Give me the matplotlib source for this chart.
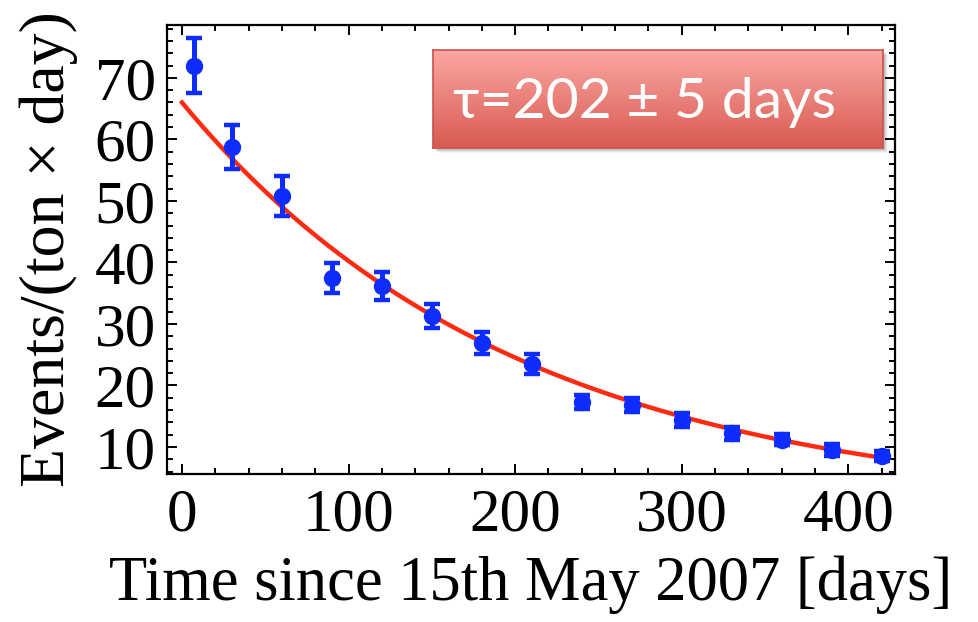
import numpy as np
import matplotlib
matplotlib.use("Agg")
import matplotlib.pyplot as plt
from matplotlib.patches import Rectangle
from matplotlib.colors import LinearSegmentedColormap
from matplotlib.ticker import MultipleLocator

# Measured event rate versus time
days = [7, 30, 60, 90, 120, 150, 180, 210, 240, 270, 300, 330, 360, 390, 420]
rate = [72.0, 58.8, 50.8, 37.5, 36.2, 31.3, 26.9, 23.5, 17.3, 16.8, 14.4, 12.2, 11.2, 9.5, 8.5]
rate_err = [4.5, 3.6, 3.2, 2.4, 2.3, 2.0, 1.8, 1.6, 1.2, 1.2, 1.1, 1.0, 0.9, 0.9, 0.8]

# Exponential fit parameters
fit_amplitude = 66.0
fit_tau = 202.0
fit_tau_err = 5.0

x_ticks = [0, 100, 200, 300, 400]
y_ticks = [10, 20, 30, 40, 50, 60, 70]

serif = "Liberation Serif"
W, H = 979, 622
fig = plt.figure(figsize=(W / 100, H / 100), dpi=100)
ax = fig.add_axes([167 / W, 1 - 474 / H, (895 - 167) / W, (474 - 25) / H])

t = np.linspace(0, 420, 400)
ax.plot(t, fit_amplitude * np.exp(-t / fit_tau), color="#ff2a12", lw=3.2, zorder=2)

ax.errorbar(days, rate, yerr=rate_err, fmt="o", color="#0f2cff", ms=11.5,
            elinewidth=3.6, capsize=6, capthick=3.2, zorder=3)

ax.set_xlim(-9, 428)
ax.set_ylim(5.6, 78.6)
ax.set_xticks(x_ticks)
ax.set_yticks(y_ticks)
ax.xaxis.set_minor_locator(MultipleLocator(20))
ax.yaxis.set_minor_locator(MultipleLocator(2))
ax.tick_params(which="both", direction="in", top=True, right=True, width=1.4, color="black")
ax.tick_params(which="major", length=7.5)
ax.tick_params(which="minor", length=4)
ax.tick_params(axis="y", which="major", pad=8)
ax.tick_params(axis="x", which="major", pad=10)
for lab in ax.get_xticklabels() + ax.get_yticklabels():
    lab.set_fontfamily(serif)
    lab.set_fontsize(44)
for s in ax.spines.values():
    s.set_linewidth(1.6)

ax.set_xlabel("Time since 15th May 2007 [days]", fontfamily=serif, fontsize=45, labelpad=9)
ax.set_ylabel("Events/(ton \u00d7 day)", fontfamily=serif, fontsize=46, labelpad=12)

# Annotation box with a soft shadow and a vertical red gradient
bx0, bx1, by0, by1 = 433, 883, 50, 148
for i, a in enumerate([0.10, 0.08, 0.06, 0.04]):
    off = 2 + i
    fig.patches.append(Rectangle(((bx0 + off) / W, 1 - (by1 + off) / H),
                                 (bx1 - bx0) / W, (by1 - by0) / H,
                                 transform=fig.transFigure, facecolor="black",
                                 edgecolor="none", alpha=a, zorder=4))
box_ax = fig.add_axes([bx0 / W, 1 - by1 / H, (bx1 - bx0) / W, (by1 - by0) / H], zorder=5)
grad_cmap = LinearSegmentedColormap.from_list("boxred", ["#d85a50", "#fba8a4"])
box_ax.imshow(np.linspace(0, 1, 256).reshape(-1, 1), cmap=grad_cmap, aspect="auto",
              extent=[0, 1, 0, 1], origin="lower")
box_ax.set_xlim(0, 1)
box_ax.set_ylim(0, 1)
box_ax.set_xticks([])
box_ax.set_yticks([])
for s in box_ax.spines.values():
    s.set_edgecolor("#c9524c")
    s.set_linewidth(1.2)
box_ax.text(0.045, 0.46, f"\u03c4={fit_tau:.0f} \u00b1 {fit_tau_err:.0f} days",
            color="white", fontsize=41, family=["Lato", "Open Sans", "DejaVu Sans"],
            ha="left", va="center")

fig.savefig("out.png", dpi=100)
